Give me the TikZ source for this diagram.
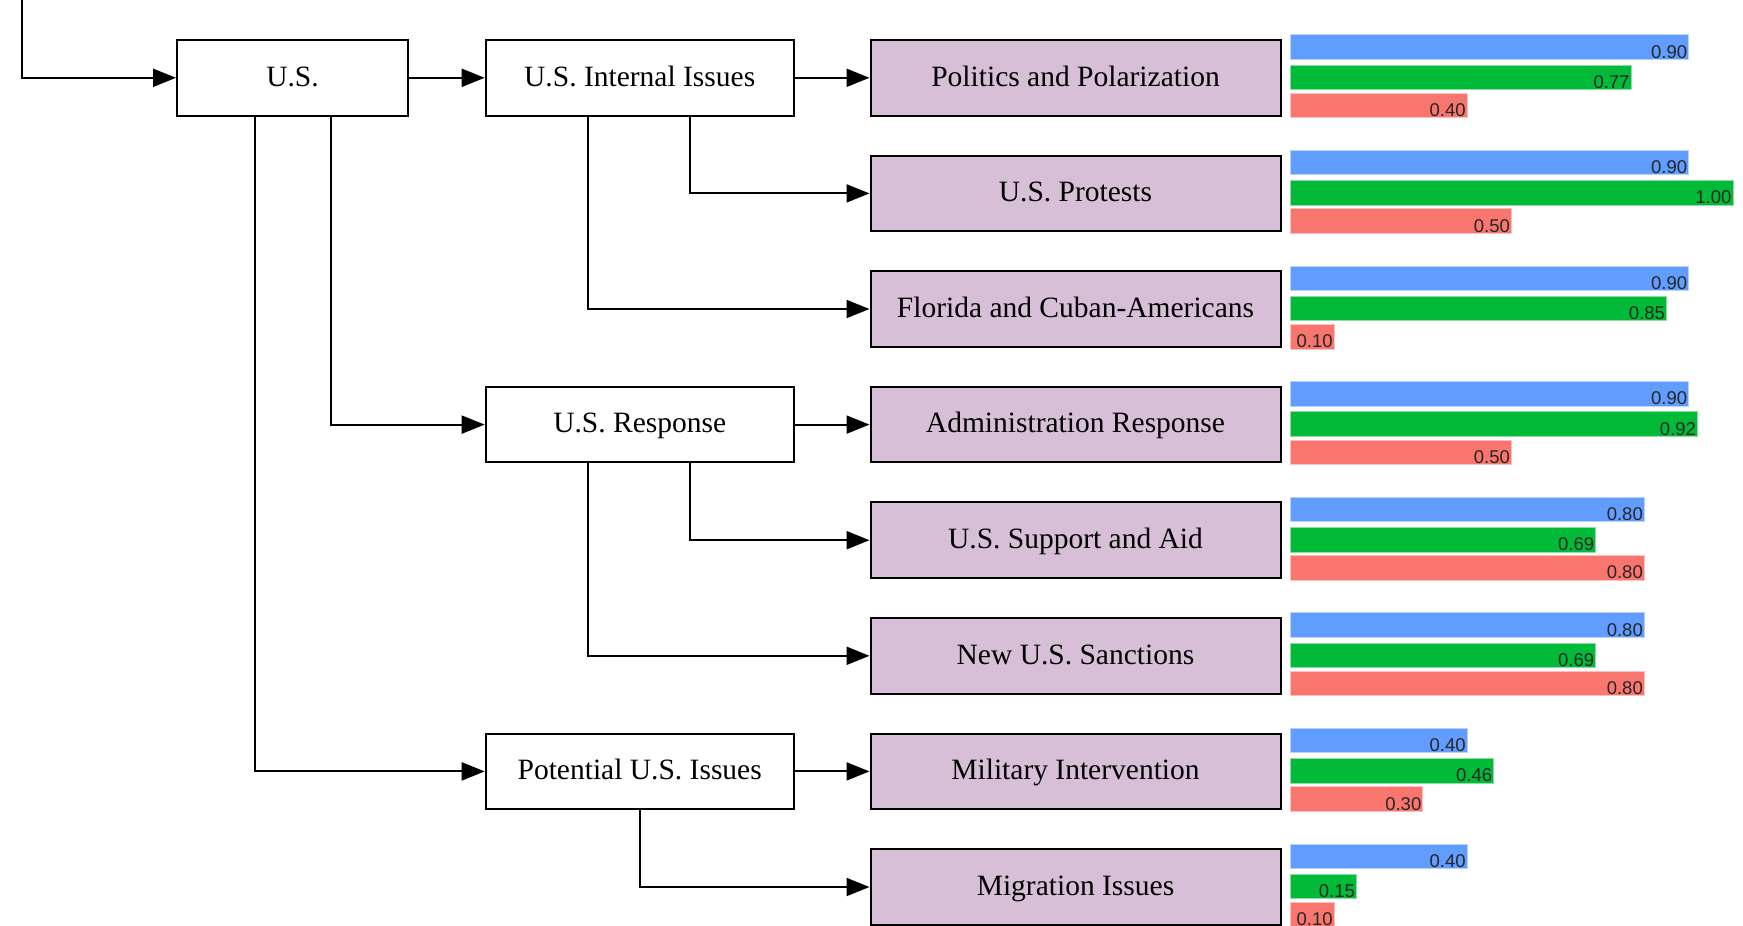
\documentclass[tikz,border=0pt]{standalone}
\usepackage{fontspec}
\setmainfont{Liberation Serif}
\newfontfamily\barfont{Liberation Sans}
\usetikzlibrary{arrows.meta}
\definecolor{boxlilac}{HTML}{D8BFD8}
\definecolor{barblue}{HTML}{619CFF}
\definecolor{bargreen}{HTML}{00BA38}
\definecolor{barred}{HTML}{F8766D}

\begin{document}
\begin{tikzpicture}[x=1pt, y=-1pt,
    box/.style={draw, line width=2pt, minimum height=75.6pt, inner sep=0pt,
                text height=22pt, text depth=5.4pt,
                font=\fontsize{29.5}{35}\selectfont},
    midbox/.style={box, minimum width=308pt},
    leafbox/.style={box, fill=boxlilac, minimum width=410pt},
    arr/.style={line width=2pt, -{Triangle[length=23pt,width=18pt]}},
    barlbl/.style={anchor=base east, inner sep=0pt, text=black!85,
                   font=\barfont\fontsize{18.5}{22}\selectfont},
  ]
    % --- 1. canvas (the tree is cut at the top and bottom) ---
    \useasboundingbox (0,0) rectangle (1743,926);
    \clip (0,0) rectangle (1743,926);
    \def\barL{443}

    % --- 2. U.S. and its three branches ---
    \coordinate (topin) at (22,-5);
    \node[box, minimum width=231pt] (US) at (292.5,77.8) {U.S.};
    \node[midbox] (intern) at (639.7,77.8) {U.S. Internal Issues};
    \node[midbox] (resp)   at (639.7,424.6) {U.S. Response};
    \node[midbox] (potl)   at (639.7,771.4) {Potential U.S. Issues};

    % --- 3. leaf topics ---
    \node[leafbox] (politics)  at (1075.5,77.8)  {Politics and Polarization};
    \node[leafbox] (protests)  at (1075.5,193.4) {U.S. Protests};
    \node[leafbox] (florida)   at (1075.5,309.0) {Florida and Cuban-Americans};
    \node[leafbox] (admin)     at (1075.5,424.6) {Administration Response};
    \node[leafbox] (support)   at (1075.5,540.2) {U.S. Support and Aid};
    \node[leafbox] (sanctions) at (1075.5,655.8) {New U.S. Sanctions};
    \node[leafbox] (military)  at (1075.5,771.4) {Military Intervention};
    \node[leafbox] (migration) at (1075.5,887.0) {Migration Issues};

    % --- 4. connectors ---
    \draw[arr] (topin) |- (US.west);
    \draw[arr] (US) -- (intern);
    \draw[arr] ([xshift=-38pt]US.south) |- (potl.west);
    \draw[arr] ([xshift=38pt]US.south) |- (resp.west);
    \draw[arr] (intern) -- (politics);
    \draw[arr] ([xshift=-51.7pt]intern.south) |- (florida.west);
    \draw[arr] ([xshift=50.6pt]intern.south) |- (protests.west);
    \draw[arr] (resp) -- (admin);
    \draw[arr] ([xshift=-51.7pt]resp.south) |- (sanctions.west);
    \draw[arr] ([xshift=50.6pt]resp.south) |- (support.west);
    \draw[arr] (potl) -- (military);
    \draw[arr] (potl.south) |- (migration.west);

    % --- 5. score bars beside each leaf ---
    \foreach \n/\a/\b/\c in {politics/0.90/0.77/0.40, protests/0.90/1.00/0.50,
        florida/0.90/0.85/0.10, admin/0.90/0.92/0.50, support/0.80/0.69/0.80,
        sanctions/0.80/0.69/0.80, military/0.40/0.46/0.30, migration/0.40/0.15/0.10} {
      \coordinate (\n-b0) at ([xshift=8.4pt]\n.east);
      \filldraw[fill=barblue, draw=barblue!45!white, line width=0.8pt]
        (\n-b0) ++(0,-43.05) rectangle ++(\a*\barL,24.5);
      \filldraw[fill=bargreen, draw=bargreen!45!white, line width=0.8pt]
        (\n-b0) ++(0,-12.75) rectangle ++(\b*\barL,24.5);
      \filldraw[fill=barred, draw=barred!45!white, line width=0.8pt]
        (\n-b0) ++(0,15.45) rectangle ++(\c*\barL,24.5);
      \path (\n-b0) ++(\a*\barL-1.3,-19.8) node[barlbl] (\n-vb) {\a};
      \path (\n-b0) ++(\b*\barL-1.3,10.5) node[barlbl] (\n-vg) {\b};
      \path (\n-b0) ++(\c*\barL-1.3,38.7) node[barlbl] (\n-vr) {\c};
    }
\end{tikzpicture}
\end{document}
